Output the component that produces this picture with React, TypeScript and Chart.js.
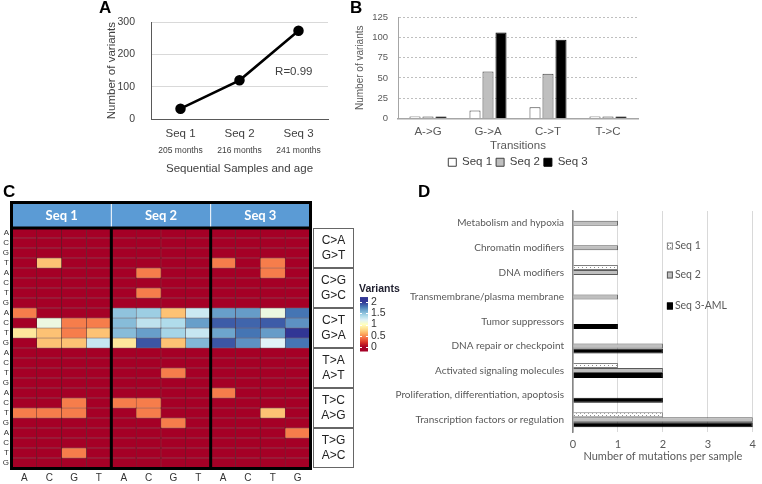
import React, { useEffect, useRef } from 'react';
import { Chart, registerables } from 'chart.js';

Chart.register(...registerables);

// ---------- Panel A data ----------
const sampleLabels = ['Seq 1', 'Seq 2', 'Seq 3'];
const ageLabels = ['205 months', '216 months', '241 months'];
const variantCounts = [32, 120, 274];

// ---------- Panel B data ----------
const transitionLabels = ['A->G', 'G->A', 'C->T', 'T->C'];
const seq1Transitions = [2, 10, 14, 2];
const seq2Transitions = [2, 58, 55, 2];
const seq3Transitions = [1, 106, 97, 2];

// ---------- Panel C data ----------
const heatColumns = ['A', 'C', 'G', 'T', 'A', 'C', 'G', 'T', 'A', 'C', 'T', 'G'];
const heatRows = ['A', 'C', 'G', 'T', 'A', 'C', 'T', 'G', 'A', 'C', 'T', 'G', 'A', 'C', 'T', 'G', 'A', 'C', 'T', 'G', 'A', 'C', 'T', 'G'];
const heatGroups = ['Seq 1', 'Seq 2', 'Seq 3'];
const mutationTypes = [['C>A', 'G>T'], ['C>G', 'G>C'], ['C>T', 'G>A'], ['T>A', 'A>T'], ['T>C', 'A>G'], ['T>G', 'A>C']];
const colorbarTicks = [2, 1.5, 1, 0.5, 0];
const heatSeq1 = [
  [0, 0, 0, 0], [0, 0, 0, 0], [0, 0, 0, 0], [0, 0.68, 0, 0],
  [0, 0, 0, 0], [0, 0, 0, 0], [0, 0, 0, 0], [0, 0, 0, 0],
  [0.45, 0, 0, 0], [0, 1.12, 0.45, 0.45], [0.85, 0.68, 0.45, 0.68], [0, 0.68, 0.68, 1.3],
  [0, 0, 0, 0], [0, 0, 0, 0], [0, 0, 0, 0], [0, 0, 0, 0],
  [0, 0, 0, 0], [0, 0, 0.45, 0], [0.45, 0.45, 0.45, 0], [0, 0, 0, 0],
  [0, 0, 0, 0], [0, 0, 0, 0], [0, 0, 0.45, 0], [0, 0, 0, 0],
];
const heatSeq2 = [
  [0, 0, 0, 0], [0, 0, 0, 0], [0, 0, 0, 0], [0, 0, 0, 0],
  [0, 0.45, 0, 0], [0, 0, 0, 0], [0, 0.45, 0, 0], [0, 0, 0, 0],
  [1.5, 1.45, 0.68, 1.28], [1.53, 1.33, 1.38, 1.65], [1.53, 1.65, 1.42, 1.3], [0.85, 1.9, 0.68, 1.55],
  [0, 0, 0, 0], [0, 0, 0, 0], [0, 0, 0.45, 0], [0, 0, 0, 0],
  [0, 0, 0, 0], [0.45, 0.45, 0, 0], [0, 0.45, 0, 0], [0, 0, 0.45, 0],
  [0, 0, 0, 0], [0, 0, 0, 0], [0, 0, 0, 0], [0, 0, 0, 0],
];
const heatSeq3 = [
  [0, 0, 0, 0], [0, 0, 0, 0], [0, 0, 0, 0], [0.45, 0, 0.45, 0],
  [0, 0, 0.45, 0], [0, 0, 0, 0], [0, 0, 0, 0], [0, 0, 0, 0],
  [1.65, 1.66, 1.12, 1.8], [1.88, 1.85, 1.88, 1.7], [1.63, 1.8, 1.66, 2.0], [1.9, 1.7, 1.2, 1.8],
  [0, 0, 0, 0], [0, 0, 0, 0], [0, 0, 0, 0], [0, 0, 0, 0],
  [0.45, 0, 0, 0], [0, 0, 0, 0], [0, 0, 0.68, 0], [0, 0, 0, 0],
  [0, 0, 0, 0.45], [0, 0, 0, 0], [0, 0, 0, 0], [0, 0, 0, 0],
];

// ---------- Panel D data ----------
const pathwayLabels = [
  'Metabolism and hypoxia',
  'Chromatin modifiers',
  'DNA modifiers',
  'Transmembrane/plasma membrane',
  'Tumor suppressors',
  'DNA repair or checkpoint',
  'Activated signaling molecules',
  'Proliferation, differentiation, apoptosis',
  'Transcription factors or regulation',
];
const pathwaySeq1 = [0, 0, 1, 0, 0, 0, 1, 0, 2];
const pathwaySeq2 = [1, 1, 1, 1, 0, 2, 2, 0, 4];
const pathwaySeq3 = [0, 0, 0, 0, 1, 2, 2, 2, 4];
const pathwaySeriesNames = ['Seq 1', 'Seq 2', 'Seq 3-AML'];

// ---------- styling ----------
const F = "'Liberation Sans', Arial, sans-serif";
const FD = "Lato, 'Liberation Sans', sans-serif";
const RDYLBU = ['#a50026', '#d73027', '#f46d43', '#fdae61', '#fee090', '#ffffbf', '#e0f3f8', '#abd9e9', '#74add1', '#4575b4', '#313695'];

function hexToRgb(h: string) {
  const n = parseInt(h.slice(1), 16);
  return [(n >> 16) & 255, (n >> 8) & 255, n & 255];
}
function heatColor(v: number) {
  const t = (Math.max(0, Math.min(2, v)) / 2) * 10;
  const i = Math.min(9, Math.floor(t));
  const f = t - i;
  const a = hexToRgb(RDYLBU[i]);
  const b = hexToRgb(RDYLBU[i + 1]);
  const c = a.map((av, k) => Math.round(av + (b[k] - av) * f));
  return `rgb(${c[0]},${c[1]},${c[2]})`;
}

function makeDotPattern(): CanvasPattern | string {
  const c = document.createElement('canvas');
  c.width = 4;
  c.height = 4;
  const g = c.getContext('2d');
  if (!g) return '#fff';
  g.fillStyle = '#ffffff';
  g.fillRect(0, 0, 4, 4);
  g.fillStyle = '#8c8c8c';
  g.fillRect(0, 0, 1, 1);
  g.fillRect(2, 2, 1, 1);
  return g.createPattern(c, 'repeat') || '#fff';
}

// ---------- plugins ----------
const rTextPlugin = {
  id: 'rText',
  afterDatasetsDraw(chart: any) {
    const { ctx, scales } = chart;
    ctx.save();
    ctx.font = `11.5px ${F}`;
    ctx.fillStyle = '#404040';
    ctx.textAlign = 'center';
    ctx.textBaseline = 'middle';
    ctx.fillText('R=0.99', scales.x.getPixelForValue(1.92), scales.y.getPixelForValue(146));
    ctx.restore();
  },
};

const heatDecor = {
  id: 'heatDecor',
  afterDraw(chart: any) {
    const { ctx, chartArea: a, scales } = chart;
    const x = scales.x;
    const y = scales.y;
    const colW = x.getPixelForValue(1) - x.getPixelForValue(0);
    const edge = (g: number) => x.getPixelForValue(g * 4) - colW / 2;
    const headerTop = a.top - 25;
    ctx.save();
    // header band
    ctx.fillStyle = '#5b9bd5';
    ctx.fillRect(a.left, headerTop, a.right - a.left, 25);
    ctx.strokeStyle = '#ffffff';
    ctx.lineWidth = 1;
    for (let g = 1; g < 3; g++) {
      ctx.beginPath();
      ctx.moveTo(edge(g), headerTop);
      ctx.lineTo(edge(g), a.top);
      ctx.stroke();
    }
    ctx.fillStyle = '#ffffff';
    ctx.font = `bold 13px ${FD}`;
    ctx.textAlign = 'center';
    ctx.textBaseline = 'middle';
    heatGroups.forEach((name, g) => {
      const right = g === 2 ? a.right : edge(g + 1);
      ctx.fillText(name, (edge(g) + right) / 2, headerTop + 13);
    });
    // thick black frame and separators
    ctx.strokeStyle = '#000';
    ctx.lineWidth = 3;
    ctx.strokeRect(a.left - 0.5, headerTop - 0.5, a.right - a.left + 1, a.bottom - headerTop + 1);
    ctx.beginPath();
    ctx.moveTo(a.left, a.top);
    ctx.lineTo(a.right, a.top);
    ctx.stroke();
    for (let g = 1; g < 3; g++) {
      ctx.beginPath();
      ctx.moveTo(edge(g), a.top);
      ctx.lineTo(edge(g), a.bottom);
      ctx.stroke();
    }
    // mutation type boxes
    ctx.lineWidth = 1;
    ctx.strokeStyle = '#666';
    ctx.font = `12px ${F}`;
    ctx.fillStyle = '#222';
    mutationTypes.forEach((lines, k) => {
      const y0 = y.getPixelForValue(k * 4);
      const y1 = y.getPixelForValue(k * 4 + 4);
      ctx.strokeRect(a.right + 3.5, y0 + 0.5, 40, y1 - y0 - 1);
      const cy = (y0 + y1) / 2;
      ctx.fillText(lines[0], a.right + 23.5, cy - 7);
      ctx.fillText(lines[1], a.right + 23.5, cy + 8);
    });
    // colorbar
    const cbX = a.right + 50;
    const vy = (v: number) => a.top + 74 + (2 - v) * 22.5;
    const grad = ctx.createLinearGradient(0, vy(0), 0, vy(2));
    RDYLBU.forEach((c, i) => grad.addColorStop(i / 10, c));
    ctx.fillStyle = grad;
    ctx.fillRect(cbX, vy(2.22), 8, vy(-0.2) - vy(2.22));
    ctx.strokeStyle = '#fff';
    ctx.lineWidth = 1;
    ctx.font = `10.5px ${F}`;
    ctx.textAlign = 'left';
    colorbarTicks.forEach((v) => {
      const py = Math.round(vy(v)) + 0.5;
      ctx.beginPath();
      ctx.moveTo(cbX, py);
      ctx.lineTo(cbX + 2, py);
      ctx.moveTo(cbX + 6, py);
      ctx.lineTo(cbX + 8, py);
      ctx.stroke();
      ctx.fillStyle = '#333';
      ctx.fillText(String(v), cbX + 11, vy(v));
    });
    ctx.fillStyle = '#1e1e2e';
    ctx.font = `bold 10.5px ${F}`;
    ctx.fillText('Variants', cbX - 1, a.top + 61);
    ctx.restore();
  },
};

function makePathwayLegend(fills: any[], borders: string[]) {
  return {
    id: 'pathwayLegend',
    afterDraw(chart: any) {
      const { ctx, chartArea: a, scales } = chart;
      const lx = scales.x.getPixelForValue(2) + 4;
      const offs = [35, 64, 95];
      ctx.save();
      ctx.font = `10.5px ${FD}`;
      ctx.textAlign = 'left';
      ctx.textBaseline = 'middle';
      pathwaySeriesNames.forEach((name, i) => {
        const cy = a.top + offs[i];
        ctx.fillStyle = fills[i];
        ctx.fillRect(lx, cy - 3.5, 6, 7);
        ctx.strokeStyle = borders[i];
        ctx.lineWidth = 1;
        ctx.strokeRect(lx + 0.5, cy - 3, 5, 6);
        ctx.fillStyle = '#595959';
        ctx.fillText(name, lx + 8, cy);
      });
      ctx.restore();
    },
  };
}

// ---------- configs ----------
function configA(): any {
  return {
    type: 'line',
    data: {
      labels: sampleLabels,
      datasets: [
        {
          data: variantCounts,
          borderColor: '#000',
          borderWidth: 2.5,
          pointRadius: 4,
          pointBackgroundColor: '#000',
          pointBorderColor: '#000',
          xAxisID: 'x',
          yAxisID: 'y',
        },
      ],
    },
    options: {
      responsive: false,
      animation: false,
      devicePixelRatio: 1,
      layout: { padding: { top: 9, right: 17, left: 0, bottom: 4 } },
      plugins: { legend: { display: false }, tooltip: { enabled: false } },
      scales: {
        x: {
          type: 'category',
          labels: sampleLabels,
          offset: true,
          grid: { display: false, drawTicks: false },
          border: { color: '#595959' },
          ticks: { font: { family: F, size: 11.5 }, color: '#404040', padding: 7.5 },
          afterFit: (s: any) => { s.height = 22; },
        },
        x2: {
          type: 'category',
          labels: ageLabels,
          position: 'bottom',
          offset: true,
          weight: 1,
          grid: { display: false, drawTicks: false },
          border: { display: false },
          ticks: { font: { family: F, size: 8.5 }, color: '#404040', padding: 5 },
          title: {
            display: true,
            text: 'Sequential Samples and age',
            font: { family: F, size: 11.5 },
            color: '#404040',
            padding: { top: 4, bottom: 5 },
          },
          afterFit: (s: any) => { s.height = 40; },
        },
        y: {
          min: 0,
          max: 300,
          ticks: { stepSize: 100, font: { family: F, size: 10.5 }, color: '#404040', padding: 16 },
          grid: { color: '#d9d9d9', drawTicks: false },
          border: { color: '#595959' },
          title: {
            display: true,
            text: 'Number of variants',
            font: { family: F, size: 11.5 },
            color: '#404040',
            padding: { top: 10, bottom: 0 },
          },
          afterFit: (s: any) => { s.width = 56; },
        },
      },
    },
    plugins: [rTextPlugin],
  };
}

function configB(): any {
  return {
    type: 'bar',
    data: {
      labels: transitionLabels,
      datasets: [
        { label: 'Seq 1', data: seq1Transitions, backgroundColor: '#ffffff', borderColor: '#404040', borderWidth: 1 },
        { label: 'Seq 2', data: seq2Transitions, backgroundColor: '#bfbfbf', borderColor: '#404040', borderWidth: 1 },
        { label: 'Seq 3', data: seq3Transitions, backgroundColor: '#000000', borderColor: '#000000', borderWidth: 1 },
      ],
    },
    options: {
      responsive: false,
      animation: false,
      devicePixelRatio: 1,
      datasets: { bar: { categoryPercentage: 0.65, barPercentage: 0.85, minBarLength: 2 } },
      layout: { padding: { top: 17, right: 4, left: 0, bottom: 0 } },
      plugins: {
        tooltip: { enabled: false },
        legend: {
          position: 'bottom',
          fullSize: false,
          labels: { boxWidth: 8, boxHeight: 8, font: { family: F, size: 11.5 }, color: '#404040', padding: 4 },
        },
      },
      scales: {
        x: {
          grid: { display: false, drawTicks: false },
          border: { color: '#a6a6a6', width: 1.5 },
          ticks: { font: { family: F, size: 11.5 }, color: '#595959', padding: 6 },
          title: { display: true, text: 'Transitions', font: { family: F, size: 11.5 }, color: '#595959', padding: 0 },
          afterFit: (s: any) => { s.height = 34; },
        },
        y: {
          min: 0,
          max: 125,
          ticks: { stepSize: 25, font: { family: F, size: 9.5 }, color: '#595959', padding: 10 },
          grid: { color: '#bfbfbf', drawTicks: false },
          border: { color: '#a6a6a6', dash: [2, 2] },
          title: {
            display: true,
            text: 'Number of variants',
            font: { family: F, size: 10 },
            color: '#595959',
            padding: { top: 2, bottom: 0 },
          },
          afterFit: (s: any) => { s.width = 46; },
        },
      },
    },
  };
}

function configC(): any {
  const datasets = heatRows.map((_, r) => {
    const values = [...heatSeq1[r], ...heatSeq2[r], ...heatSeq3[r]];
    return {
      data: values.map(() => 1),
      backgroundColor: values.map(heatColor),
      borderColor: 'rgba(45,0,10,0.75)',
      borderWidth: 0.5,
      borderSkipped: false,
      stack: 'rows',
    };
  });
  return {
    type: 'bar',
    data: { labels: heatColumns, datasets },
    options: {
      responsive: false,
      animation: false,
      devicePixelRatio: 1,
      datasets: { bar: { categoryPercentage: 1, barPercentage: 1 } },
      layout: { padding: { top: 33, right: 100, left: 0, bottom: 0 } },
      plugins: { legend: { display: false }, tooltip: { enabled: false } },
      scales: {
        x: {
          stacked: true,
          grid: { display: false, drawTicks: false },
          border: { display: false },
          ticks: { font: { family: F, size: 10 }, color: '#333', padding: 4, autoSkip: false, maxRotation: 0 },
          afterFit: (s: any) => { s.height = 16; },
        },
        y: {
          stacked: true,
          min: 0,
          max: heatRows.length,
          reverse: true,
          grid: { display: false, drawTicks: false },
          border: { display: false },
          afterBuildTicks: (s: any) => {
            s.ticks = heatRows.map((_, i) => ({ value: i + 0.5 }));
          },
          ticks: {
            autoSkip: false,
            font: { family: F, size: 8 },
            color: '#333',
            padding: 3,
            callback: (_v: any, i: number) => heatRows[i],
          },
          afterFit: (s: any) => { s.width = 12; },
        },
      },
    },
    plugins: [heatDecor],
  };
}

function configD(): any {
  const dot = makeDotPattern();
  const fills = [dot, '#bfbfbf', '#000000'];
  const borders = ['#7f7f7f', '#595959', '#000000'];
  const series = [pathwaySeq1, pathwaySeq2, pathwaySeq3];
  return {
    type: 'bar',
    data: {
      labels: pathwayLabels,
      datasets: series.map((s, i) => ({
        label: pathwaySeriesNames[i],
        data: s.map((v) => (v === 0 ? null : v)),
        backgroundColor: fills[i],
        borderColor: borders[i],
        borderWidth: 1,
      })),
    },
    options: {
      indexAxis: 'y',
      responsive: false,
      animation: false,
      devicePixelRatio: 1,
      datasets: { bar: { categoryPercentage: 0.61, barPercentage: 1 } },
      layout: { padding: { top: 16, right: 4, left: 0, bottom: 2 } },
      plugins: { legend: { display: false }, tooltip: { enabled: false } },
      scales: {
        x: {
          min: 0,
          max: 4,
          ticks: { stepSize: 1, font: { family: FD, size: 11 }, color: '#595959', padding: 6 },
          grid: { color: '#d9d9d9', drawTicks: false },
          border: { display: false },
          title: {
            display: true,
            text: 'Number of mutations per sample',
            font: { family: FD, size: 11 },
            color: '#595959',
            padding: 0,
          },
          afterFit: (s: any) => { s.height = 31; },
        },
        y: {
          grid: { display: false, drawTicks: false },
          border: { color: '#868686', width: 1.5 },
          ticks: { autoSkip: false, font: { family: FD, size: 10 }, color: '#595959', padding: 9 },
          afterFit: (s: any) => { s.width = 183; },
        },
      },
    },
    plugins: [makePathwayLegend(fills, borders)],
  };
}

// ---------- components ----------
function ChartCanvas(props: { left: number; top: number; width: number; height: number; make: () => any }) {
  const ref = useRef<HTMLCanvasElement>(null);
  useEffect(() => {
    if (!ref.current) return;
    const chart = new Chart(ref.current, props.make());
    return () => chart.destroy();
  }, []);
  return (
    <canvas
      ref={ref}
      width={props.width}
      height={props.height}
      style={{ position: 'absolute', left: props.left, top: props.top, width: props.width, height: props.height }}
    />
  );
}

const panelLabel = (text: string, left: number, top: number) => (
  <div
    style={{
      position: 'absolute',
      left,
      top,
      font: `bold 17px ${F}`,
      color: '#000',
      lineHeight: '17px',
    }}
  >
    {text}
  </div>
);

export default function App() {
  return (
    <div style={{ position: 'absolute', left: 0, top: 0, width: 762, height: 484, background: '#fff', overflow: 'hidden' }}>
      <ChartCanvas left={95} top={0} width={250} height={185} make={configA} />
      <ChartCanvas left={352} top={0} width={290} height={178} make={configB} />
      <ChartCanvas left={0} top={195} width={410} height={289} make={configC} />
      <ChartCanvas left={390} top={195} width={372} height={270} make={configD} />
      {panelLabel('A', 99, -1)}
      {panelLabel('B', 350, -1)}
      {panelLabel('C', 3, 183)}
      {panelLabel('D', 418, 183)}
    </div>
  );
}
